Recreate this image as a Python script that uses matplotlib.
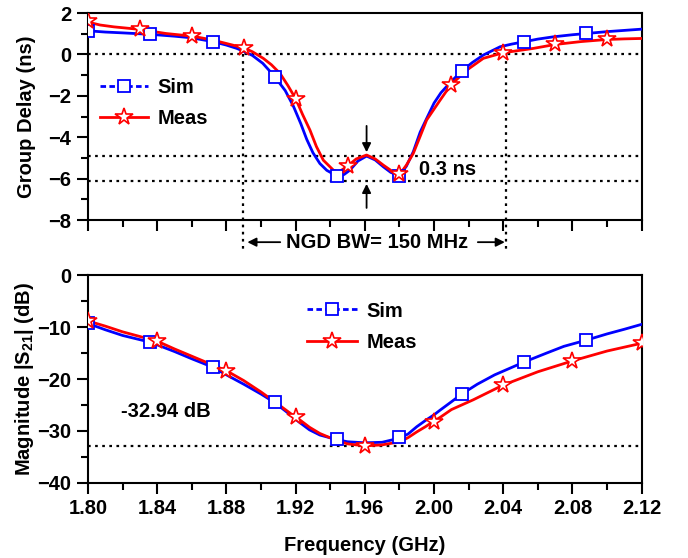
import matplotlib
matplotlib.use("Agg")
import matplotlib.pyplot as plt
from matplotlib.lines import Line2D
from matplotlib.ticker import MultipleLocator

plt.rcParams['font.family'] = ['Liberation Sans', 'DejaVu Sans']
plt.rcParams['font.weight'] = 'bold'
plt.rcParams['axes.labelweight'] = 'bold'
plt.rcParams['mathtext.fontset'] = 'custom'
plt.rcParams['mathtext.rm'] = 'Liberation Sans:bold'
plt.rcParams['mathtext.bf'] = 'Liberation Sans:bold'

# group delay (ns) vs frequency (GHz)
gd_sim_f = [1.800, 1.810, 1.820, 1.836, 1.850, 1.860, 1.872, 1.880, 1.886, 1.890,
            1.895, 1.901, 1.9077, 1.914, 1.9187, 1.923, 1.9264, 1.930, 1.934, 1.938,
            1.944, 1.948, 1.9514, 1.956, 1.961, 1.966, 1.9707, 1.975, 1.980, 1.984,
            1.988, 1.992, 1.9957, 2.000, 2.004, 2.010, 2.016, 2.022, 2.0285, 2.0382,
            2.045, 2.052, 2.060, 2.069, 2.080, 2.088, 2.100, 2.110, 2.120]
gd_sim = [1.14, 1.08, 1.04, 0.97, 0.88, 0.80, 0.62, 0.45, 0.29, 0.15,
          -0.05, -0.43, -1.05, -1.75, -2.50, -3.35, -4.10, -4.75, -5.27, -5.60,
          -5.88, -5.80, -5.59, -5.15, -4.91, -5.10, -5.43, -5.70, -5.86, -5.40,
          -4.70, -3.75, -3.10, -2.35, -1.85, -1.30, -0.81, -0.40, -0.03, 0.37,
          0.50, 0.61, 0.74, 0.85, 0.95, 1.01, 1.10, 1.16, 1.22]

gd_meas_f = [1.800, 1.803, 1.807, 1.815, 1.8297, 1.845, 1.8603, 1.868, 1.876, 1.8898,
             1.895, 1.9013, 1.906, 1.911, 1.9155, 1.9202, 1.924, 1.9283, 1.932, 1.936,
             1.9418, 1.945, 1.9499, 1.955, 1.961, 1.966, 1.9707, 1.975, 1.9803, 1.984,
             1.988, 1.992, 1.9957, 2.0035, 2.0096, 2.0189, 2.0285, 2.040, 2.0574, 2.070,
             2.085, 2.0998, 2.110, 2.120]
gd_meas = [1.65, 1.50, 1.42, 1.33, 1.21, 1.01, 0.88, 0.76, 0.61, 0.32,
           0.13, -0.19, -0.50, -0.92, -1.50, -2.17, -2.90, -3.66, -4.45, -5.11,
           -5.59, -5.68, -5.40, -5.05, -4.86, -5.05, -5.35, -5.60, -5.78, -5.35,
           -4.78, -3.95, -3.17, -2.21, -1.48, -0.76, -0.19, 0.08, 0.29, 0.48,
           0.62, 0.72, 0.75, 0.77]

gd_sim_mk_f = [1.800, 1.836, 1.872, 1.908, 1.944, 1.980, 2.016, 2.052, 2.088]
gd_sim_mk = [1.14, 0.97, 0.62, -1.08, -5.88, -5.86, -0.81, 0.61, 1.01]
gd_meas_mk_f = [1.80, 1.83, 1.86, 1.89, 1.92, 1.95, 1.98, 2.01, 2.04, 2.07, 2.10]
gd_meas_mk = [1.62, 1.21, 0.88, 0.31, -2.17, -5.40, -5.78, -1.48, 0.08, 0.48, 0.72]

# |S21| (dB) vs frequency (GHz)
s21_sim_f = [1.800, 1.810, 1.820, 1.836, 1.850, 1.860, 1.872, 1.880, 1.890, 1.900,
             1.9077, 1.915, 1.922, 1.928, 1.934, 1.944, 1.950, 1.960, 1.970, 1.980,
             1.985, 1.990, 1.995, 2.000, 2.0035, 2.0112, 2.016, 2.025, 2.035, 2.0522,
             2.065, 2.075, 2.088, 2.100, 2.110, 2.120]
s21_sim = [-9.3, -10.5, -11.6, -12.9, -14.7, -16.1, -17.7, -19.2, -21.0, -22.9,
           -24.5, -26.4, -28.3, -29.8, -30.8, -31.7, -32.1, -32.3, -32.2, -31.4,
           -30.6, -29.2, -28.0, -26.9, -26.0, -24.1, -22.9, -21.0, -19.2, -16.7,
           -15.0, -13.7, -12.5, -11.3, -10.4, -9.45]

s21_meas_f = [1.800, 1.810, 1.820, 1.840, 1.850, 1.860, 1.870, 1.880, 1.890, 1.900,
              1.910, 1.9197, 1.9225, 1.928, 1.934, 1.944, 1.950, 1.960, 1.970, 1.9803,
              1.985, 1.990, 1.995, 1.9996, 2.0035, 2.010, 2.0227, 2.0397, 2.060, 2.080,
              2.100, 2.120]
s21_meas = [-8.8, -9.8, -10.9, -12.7, -14.2, -15.6, -17.0, -18.4, -20.3, -22.5,
            -24.9, -27.3, -27.9, -29.3, -30.5, -31.9, -32.5, -32.9, -32.7, -32.1,
            -31.3, -30.2, -29.2, -28.2, -27.4, -25.9, -24.0, -21.2, -18.6, -16.5,
            -14.6, -13.1]

s21_sim_mk_f = [1.800, 1.836, 1.872, 1.908, 1.944, 1.980, 2.016, 2.052, 2.088]
s21_sim_mk = [-9.26, -12.8, -17.6, -24.4, -31.6, -31.2, -22.9, -16.7, -12.5]
s21_meas_mk_f = [1.80, 1.84, 1.88, 1.92, 1.96, 2.00, 2.04, 2.08, 2.12]
s21_meas_mk = [-8.8, -12.67, -18.4, -27.3, -32.9, -28.2, -21.2, -16.5, -13.1]

gd_levels = [0, -4.9, -6.1]
bw_edges = [1.8895, 2.0415]
s21_min = -32.94

BLUE = '#0000ff'
RED = '#ff0000'
FS = 14.5
DOT = (0, (1.2, 2.0))

sim_kw = dict(color=BLUE, lw=2.0)
meas_kw = dict(color=RED, lw=2.0)
sq_kw = dict(ls='none', marker='s', ms=9, mfc='white', mec=BLUE, mew=1.3)
st_kw = dict(ls='none', marker='*', ms=13, mfc='white', mec=RED, mew=1.2)

sim_handle = Line2D([], [], color=BLUE, lw=2.0, ls=(0, (2.0, 1.2)), marker='s',
                    ms=9, mfc='white', mec=BLUE, mew=1.3)
meas_handle = Line2D([], [], color=RED, lw=2.0, marker='*', ms=13,
                     mfc='white', mec=RED, mew=1.2)


def style_axis(ax, ymaj, ymin):
    ax.set_xlim(1.80, 2.12)
    ax.xaxis.set_major_locator(MultipleLocator(0.04))
    ax.xaxis.set_minor_locator(MultipleLocator(0.02))
    ax.yaxis.set_major_locator(MultipleLocator(ymaj))
    ax.yaxis.set_minor_locator(MultipleLocator(ymin))
    ax.tick_params(which='both', direction='out', width=1.5, top=False, right=False,
                   labelsize=FS)
    ax.tick_params(which='major', length=8, pad=4)
    ax.tick_params(which='minor', length=5)
    for s in ax.spines.values():
        s.set_linewidth(1.5)


fig = plt.figure(figsize=(6.88, 5.58), dpi=100)
ax1 = fig.add_axes([0.1279, 0.6057, 0.8048, 0.371])
ax2 = fig.add_axes([0.1279, 0.1349, 0.8048, 0.3717])

# ---- group delay
for lev in gd_levels:
    ax1.axhline(lev, color='k', lw=1.6, ls=DOT, zorder=1)
for f in bw_edges:
    ax1.plot([f, f], [0, -9.6], color='k', lw=1.6, ls=DOT, clip_on=False, zorder=1)

ax1.plot(gd_sim_f, gd_sim, **sim_kw, zorder=3)
ax1.plot(gd_meas_f, gd_meas, **meas_kw, zorder=4)
ax1.plot(gd_sim_mk_f, gd_sim_mk, **sq_kw, zorder=5)
ax1.plot(gd_meas_mk_f, gd_meas_mk, **st_kw, zorder=6)

ax1.set_ylim(-8, 2)
style_axis(ax1, 2, 1)
ax1.tick_params(labelbottom=False)
ax1.set_ylabel('Group Delay (ns)', fontsize=FS)
ax1.yaxis.set_label_coords(-0.094, 0.5)

arr = dict(arrowstyle='-|>', color='k', lw=1.3, mutation_scale=13)
ax1.annotate('', xy=(1.961, -4.86), xytext=(1.961, -3.32), arrowprops=arr)
ax1.annotate('', xy=(1.961, -6.12), xytext=(1.961, -7.55), arrowprops=arr)
ax1.text(2.008, -5.57, '0.3 ns', fontsize=FS, ha='center', va='center')

ax1.annotate('', xy=(1.8905, -9.07), xytext=(1.9127, -9.07), arrowprops=arr,
             annotation_clip=False)
ax1.annotate('', xy=(2.0425, -9.07), xytext=(2.0237, -9.07), arrowprops=arr,
             annotation_clip=False)
ax1.text(1.967, -9.07, 'NGD BW= 150 MHz', fontsize=FS, ha='center', va='center',
         clip_on=False)

ax1.legend([sim_handle, meas_handle], ['Sim', 'Meas'], loc='center left',
           bbox_to_anchor=(0.0217, 0.565), frameon=False, fontsize=FS,
           handlelength=2.4, handletextpad=0.45, labelspacing=0.6,
           borderpad=0, borderaxespad=0)

# ---- transmission magnitude
ax2.axhline(s21_min, color='k', lw=1.6, ls=DOT, zorder=1)
ax2.plot(s21_sim_f, s21_sim, **sim_kw, zorder=3)
ax2.plot(s21_meas_f, s21_meas, **meas_kw, zorder=4)
ax2.plot(s21_sim_mk_f, s21_sim_mk, **sq_kw, zorder=5)
ax2.plot(s21_meas_mk_f, s21_meas_mk, **st_kw, zorder=6)

ax2.set_ylim(-40, 0)
style_axis(ax2, 10, 5)
ax2.set_xticks([1.80, 1.84, 1.88, 1.92, 1.96, 2.00, 2.04, 2.08, 2.12])
ax2.set_xticklabels(['1.80', '1.84', '1.88', '1.92', '1.96', '2.00', '2.04', '2.08', '2.12'])
ax2.set_xlabel('Frequency (GHz)', fontsize=FS)
ax2.xaxis.set_label_coords(0.5, -0.255)
ax2.set_ylabel('Magnitude |S$_{21}$| (dB)', fontsize=FS)
ax2.yaxis.set_label_coords(-0.094, 0.5)
ax2.text(1.845, -26.3, '%.2f dB' % s21_min, fontsize=FS, ha='center', va='center')

ax2.legend([sim_handle, meas_handle], ['Sim', 'Meas'], loc='center left',
           bbox_to_anchor=(0.3955, 0.753), frameon=False, fontsize=FS,
           handlelength=2.5, handletextpad=0.45, labelspacing=0.6,
           borderpad=0, borderaxespad=0)

fig.savefig('out.png', dpi=100)
